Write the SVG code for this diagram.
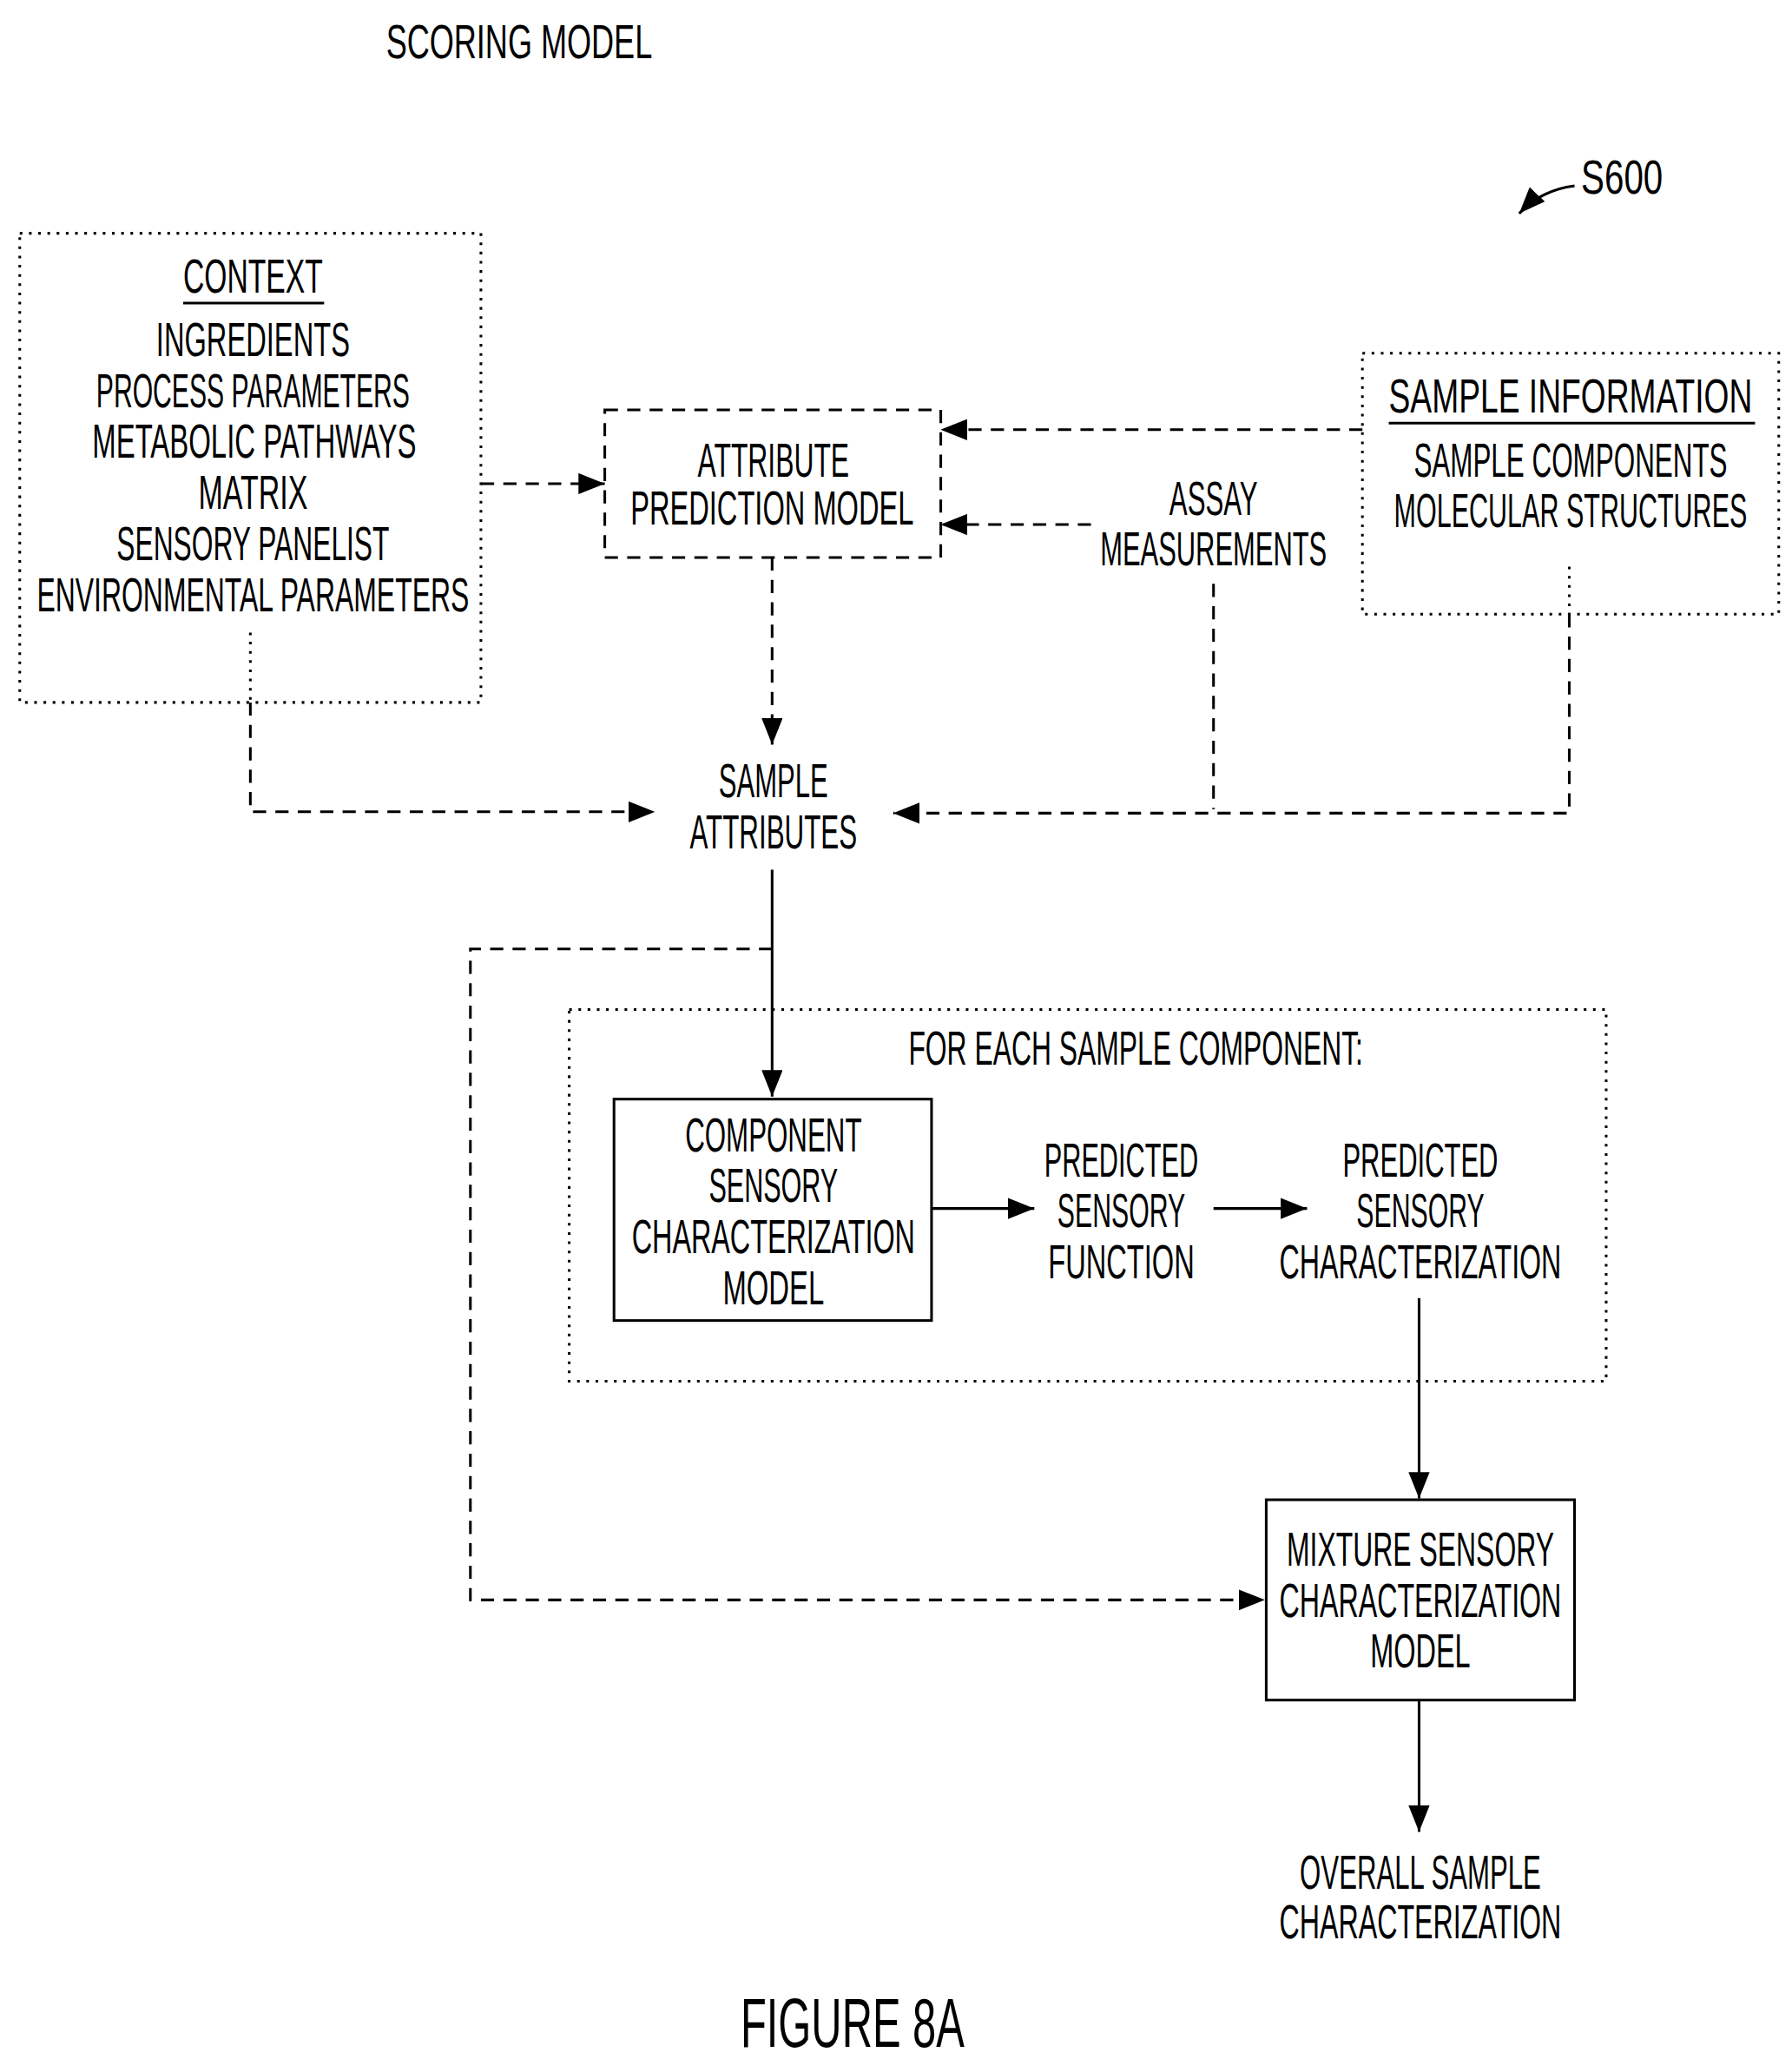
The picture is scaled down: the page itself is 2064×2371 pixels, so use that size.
<svg xmlns="http://www.w3.org/2000/svg" width="2064" height="2371" viewBox="0 0 2064 2371">
<defs>
<style>
text{font-family:"Liberation Sans",Arial,sans-serif;font-size:37px;fill:#000;text-anchor:middle}
.big{font-size:52px}
.dot{fill:none;stroke:#000;stroke-width:2;stroke-dasharray:2 5}
.dash{fill:none;stroke:#000;stroke-width:2;stroke-dasharray:10 7}
.solid{fill:none;stroke:#000;stroke-width:2}
</style>
<marker id="ah" viewBox="0 0 20 16" refX="20" refY="8" markerWidth="20" markerHeight="16" markerUnits="userSpaceOnUse" orient="auto"><path d="M0,0L20,8L0,16z" fill="#000"/></marker>
</defs>
<rect width="2064" height="2371" fill="#fff"/>
<g transform="scale(1.5176)">
<g id="title"><text x="394" y="44" textLength="202" lengthAdjust="spacingAndGlyphs">SCORING MODEL</text></g>
<g id="s600"><text x="1231" y="147" textLength="62" lengthAdjust="spacingAndGlyphs">S600</text>
<path class="solid" d="M1195,141 Q1170,144 1153,162" marker-end="url(#ah)"/></g>
<g id="context">
<rect class="dot" x="15" y="177" width="350" height="356"/>
<text x="192" y="222" textLength="106" lengthAdjust="spacingAndGlyphs">CONTEXT</text>
<line class="solid" x1="139" y1="230" x2="246" y2="230"/>
<text x="192" y="270" textLength="147" lengthAdjust="spacingAndGlyphs">INGREDIENTS</text>
<text x="192" y="309" textLength="238" lengthAdjust="spacingAndGlyphs">PROCESS PARAMETERS</text>
<text x="193" y="347" textLength="246" lengthAdjust="spacingAndGlyphs">METABOLIC PATHWAYS</text>
<text x="192" y="386" textLength="83" lengthAdjust="spacingAndGlyphs">MATRIX</text>
<text x="192" y="425" textLength="207" lengthAdjust="spacingAndGlyphs">SENSORY PANELIST</text>
<text x="192" y="464" textLength="328" lengthAdjust="spacingAndGlyphs">ENVIRONMENTAL PARAMETERS</text>
</g>
<g id="attr_pred">
<rect class="dash" x="459" y="311" width="255" height="112"/>
<text x="587" y="362" textLength="115" lengthAdjust="spacingAndGlyphs">ATTRIBUTE</text>
<text x="586" y="398" textLength="215" lengthAdjust="spacingAndGlyphs">PREDICTION MODEL</text>
</g>
<g id="sample_info">
<rect class="dot" x="1034" y="268" width="316" height="198"/>
<text x="1192" y="313" textLength="276" lengthAdjust="spacingAndGlyphs">SAMPLE INFORMATION</text>
<line class="solid" x1="1054" y1="321" x2="1332" y2="321"/>
<text x="1192" y="362" textLength="238" lengthAdjust="spacingAndGlyphs">SAMPLE COMPONENTS</text>
<text x="1192" y="400" textLength="268" lengthAdjust="spacingAndGlyphs">MOLECULAR STRUCTURES</text>
</g>
<g id="assay">
<text x="921" y="391" textLength="67" lengthAdjust="spacingAndGlyphs">ASSAY</text>
<text x="921" y="429" textLength="172" lengthAdjust="spacingAndGlyphs">MEASUREMENTS</text>
</g>
<g id="sample_attr">
<text x="587" y="605" textLength="83" lengthAdjust="spacingAndGlyphs">SAMPLE</text>
<text x="587" y="644" textLength="127" lengthAdjust="spacingAndGlyphs">ATTRIBUTES</text>
</g>
<g id="for_each">
<rect class="dot" x="432" y="766" width="787" height="282"/>
<text x="862" y="808" textLength="345" lengthAdjust="spacingAndGlyphs">FOR EACH SAMPLE COMPONENT:</text>
</g>
<g id="component">
<rect class="solid" x="466" y="834" width="241" height="168"/>
<text x="587" y="874" textLength="134" lengthAdjust="spacingAndGlyphs">COMPONENT</text>
<text x="587" y="912" textLength="98" lengthAdjust="spacingAndGlyphs">SENSORY</text>
<text x="587" y="951" textLength="215" lengthAdjust="spacingAndGlyphs">CHARACTERIZATION</text>
<text x="587" y="990" textLength="77" lengthAdjust="spacingAndGlyphs">MODEL</text>
</g>
<g id="pred_func">
<text x="851" y="893" textLength="117" lengthAdjust="spacingAndGlyphs">PREDICTED</text>
<text x="851" y="931" textLength="97" lengthAdjust="spacingAndGlyphs">SENSORY</text>
<text x="851" y="970" textLength="111" lengthAdjust="spacingAndGlyphs">FUNCTION</text>
</g>
<g id="pred_char">
<text x="1078" y="893" textLength="118" lengthAdjust="spacingAndGlyphs">PREDICTED</text>
<text x="1078" y="931" textLength="97" lengthAdjust="spacingAndGlyphs">SENSORY</text>
<text x="1078" y="970" textLength="214" lengthAdjust="spacingAndGlyphs">CHARACTERIZATION</text>
</g>
<g id="mixture">
<rect class="solid" x="961" y="1138" width="234" height="152"/>
<text x="1078" y="1188" textLength="203" lengthAdjust="spacingAndGlyphs">MIXTURE SENSORY</text>
<text x="1078" y="1227" textLength="214" lengthAdjust="spacingAndGlyphs">CHARACTERIZATION</text>
<text x="1078" y="1265" textLength="76" lengthAdjust="spacingAndGlyphs">MODEL</text>
</g>
<g id="overall">
<text x="1078" y="1433" textLength="183" lengthAdjust="spacingAndGlyphs">OVERALL SAMPLE</text>
<text x="1078" y="1471" textLength="214" lengthAdjust="spacingAndGlyphs">CHARACTERIZATION</text>
</g>
<g id="figure"><text class="big" x="647" y="1553" textLength="170" lengthAdjust="spacingAndGlyphs">FIGURE 8A</text></g>
<g id="connectors">
<line class="dash" x1="365" y1="367" x2="459" y2="367" marker-end="url(#ah)"/>
<line class="dash" x1="1034" y1="326" x2="714" y2="326" marker-end="url(#ah)"/>
<line class="dash" x1="828" y1="398" x2="714" y2="398" marker-end="url(#ah)"/>
<line class="dash" x1="586" y1="423" x2="586" y2="565" marker-end="url(#ah)"/>
<line class="dot" x1="190" y1="480" x2="190" y2="533"/>
<path class="dash" d="M190,533V616H497" marker-end="url(#ah)"/>
<line class="dash" x1="921" y1="443" x2="921" y2="614"/>
<line class="dot" x1="1191" y1="430" x2="1191" y2="466"/>
<path class="dash" d="M1191,466V617H678" marker-end="url(#ah)"/>
<line class="solid" x1="586" y1="660" x2="586" y2="832" marker-end="url(#ah)"/>
<path class="dash" d="M586,720H357V1214H960" marker-end="url(#ah)"/>
<line class="solid" x1="707" y1="917" x2="785" y2="917" marker-end="url(#ah)"/>
<line class="solid" x1="921" y1="917" x2="992" y2="917" marker-end="url(#ah)"/>
<line class="solid" x1="1077" y1="985" x2="1077" y2="1137" marker-end="url(#ah)"/>
<line class="solid" x1="1077" y1="1290" x2="1077" y2="1390" marker-end="url(#ah)"/>
</g>
</g>
</svg>
